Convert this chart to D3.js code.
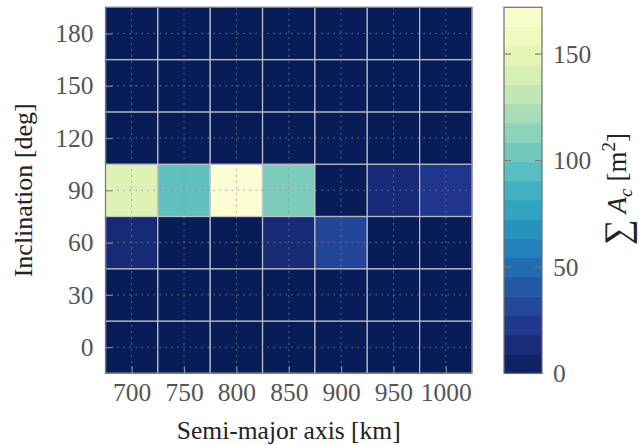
<!DOCTYPE html>
<html>
<head>
<meta charset="utf-8">
<script src="https://cdn.jsdelivr.net/npm/d3@7"></script>
<style>
  html, body { margin: 0; padding: 0; background: #fff; }
  svg { display: block; }
  text { font-family: "Liberation Serif", "DejaVu Serif", serif; }
</style>
</head>
<body>
<svg id="chart" width="639" height="445"></svg>
<script>
// ---- data ----
const semiMajorAxis = [700, 750, 800, 850, 900, 950, 1000];     // km (x categories)
const inclinations = [0, 30, 60, 90, 120, 150, 180];            // deg (y categories)
// summed cross-sectional area per cell, one array per inclination row (m^2)
const areaInc0   = [0, 0, 0, 0, 0, 0, 0];
const areaInc30  = [0, 0, 0, 0, 0, 0, 0];
const areaInc60  = [12, 0, 0, 12, 30, 0, 0];
const areaInc90  = [145, 98, 172, 108, 0, 12, 21];
const areaInc120 = [0, 0, 0, 0, 0, 0, 0];
const areaInc150 = [0, 0, 0, 0, 0, 0, 0];
const areaInc180 = [0, 0, 0, 0, 0, 0, 0];
const areaRows = [areaInc0, areaInc30, areaInc60, areaInc90, areaInc120, areaInc150, areaInc180];
const colorTicks = [0, 50, 100, 150];
const colorMax = 172;
const colorLevels = 19;

// ---- layout ----
const svg = d3.select("#chart");
const plot = { left: 105.5, right: 472, top: 7.3, bottom: 373.3 };
const cbar = { left: 504, right: 542, top: 7.3, bottom: 373.3 };

const x = d3.scaleLinear().domain([675, 1025]).range([plot.left, plot.right]);
const y = d3.scaleLinear().domain([-15, 195]).range([plot.bottom, plot.top]);
const cy = d3.scaleLinear().domain([0, colorMax]).range([cbar.bottom, cbar.top]);
const color = v => d3.interpolateYlGnBu(1 - Math.min(v, colorMax) / colorMax * 0.985);

const cells = [];
inclinations.forEach((inc, i) => {
  semiMajorAxis.forEach((a, j) => cells.push({ a, inc, v: areaRows[i][j] }));
});

// cells
svg.append("g").selectAll("rect").data(cells).join("rect")
  .attr("x", d => x(d.a - 25))
  .attr("y", d => y(d.inc + 15))
  .attr("width", d => x(d.a + 25) - x(d.a - 25))
  .attr("height", d => y(d.inc - 15) - y(d.inc + 15))
  .attr("fill", d => color(d.v))
  .attr("stroke", "#c4c4c8")
  .attr("stroke-opacity", 0.85)
  .attr("stroke-width", 1.3);

// dotted grid
const grid = svg.append("g").attr("stroke", "#8a8a8a").attr("stroke-width", 1)
  .attr("stroke-dasharray", "1.3,4.7");
grid.selectAll("line.h").data(inclinations).join("line")
  .attr("x1", plot.left).attr("x2", plot.right)
  .attr("y1", d => y(d)).attr("y2", d => y(d));
grid.selectAll("line.v").data(semiMajorAxis).join("line")
  .attr("y1", plot.top).attr("y2", plot.bottom)
  .attr("x1", d => x(d)).attr("x2", d => x(d));

// frame
svg.append("rect")
  .attr("x", plot.left).attr("y", plot.top)
  .attr("width", plot.right - plot.left).attr("height", plot.bottom - plot.top)
  .attr("fill", "none").attr("stroke", "#7a7a7a").attr("stroke-width", 1.2);

// axes
const xAxis = d3.axisBottom(x).tickValues(semiMajorAxis).tickFormat(d3.format("d"))
  .tickSizeInner(-7).tickSizeOuter(0).tickPadding(10);
const gx = svg.append("g").attr("transform", `translate(0,${plot.bottom})`).call(xAxis);
gx.select(".domain").remove();
gx.selectAll(".tick line").attr("stroke", "#8a8a8a").attr("stroke-width", 1.2);
gx.selectAll(".tick text").attr("font-size", 25.5).attr("fill", "#555").attr("font-family", "Liberation Serif");

const yAxis = d3.axisLeft(y).tickValues(inclinations).tickFormat(d3.format("d"))
  .tickSizeInner(-7).tickSizeOuter(0).tickPadding(12);
const gy = svg.append("g").attr("transform", `translate(${plot.left},0)`).call(yAxis);
gy.select(".domain").remove();
gy.selectAll(".tick line").attr("stroke", "#8a8a8a").attr("stroke-width", 1.2);
gy.selectAll(".tick text").attr("font-size", 25.5).attr("fill", "#555").attr("font-family", "Liberation Serif");

// axis titles
svg.append("text")
  .attr("x", (plot.left + plot.right) / 2).attr("y", 439)
  .attr("text-anchor", "middle").attr("font-size", 25.5).attr("fill", "#222")
  .text("Semi-major axis [km]");
svg.append("text")
  .attr("transform", `translate(32,${(plot.top + plot.bottom) / 2}) rotate(-90)`)
  .attr("text-anchor", "middle").attr("font-size", 26).attr("fill", "#222")
  .text("Inclination [deg]");

// colorbar bands
const step = colorMax / colorLevels;
const bands = d3.range(colorLevels).map(k => ({ lo: k * step, hi: (k + 1) * step }));
svg.append("g").selectAll("rect").data(bands).join("rect")
  .attr("x", cbar.left).attr("width", cbar.right - cbar.left)
  .attr("y", d => cy(d.hi)).attr("height", d => cy(d.lo) - cy(d.hi) + 0.5)
  .attr("fill", d => color((d.lo + d.hi) / 2));
svg.append("rect")
  .attr("x", cbar.left).attr("y", cbar.top)
  .attr("width", cbar.right - cbar.left).attr("height", cbar.bottom - cbar.top)
  .attr("fill", "none").attr("stroke", "#6e6e6e").attr("stroke-width", 1.2);

const cAxis = d3.axisRight(cy).tickValues(colorTicks).tickFormat(d3.format("d"))
  .tickSizeInner(0).tickSizeOuter(0).tickPadding(11);
const gc = svg.append("g").attr("transform", `translate(${cbar.right},0)`).call(cAxis);
gc.select(".domain").remove();
gc.selectAll(".tick text").attr("font-size", 25.5).attr("fill", "#555").attr("font-family", "Liberation Serif");
// inner tick marks on both sides of the bar
const cticks = svg.append("g").attr("stroke", "#7a7a7a").attr("stroke-width", 1.2);
cticks.selectAll("line.l").data(colorTicks.filter(t => t > 0)).join("line")
  .attr("x1", cbar.left).attr("x2", cbar.left + 7).attr("y1", d => cy(d)).attr("y2", d => cy(d));
cticks.selectAll("line.r").data(colorTicks.filter(t => t > 0)).join("line")
  .attr("x1", cbar.right - 7).attr("x2", cbar.right).attr("y1", d => cy(d)).attr("y2", d => cy(d));

// colorbar title
const ct = svg.append("text")
  .attr("transform", `translate(626,189) rotate(-90)`)
  .attr("text-anchor", "middle").attr("font-size", 27).attr("fill", "#222");
ct.append("tspan").attr("font-size", 36).attr("dy", 3).text("∑");
ct.append("tspan").attr("dx", 6).attr("dy", -3).attr("font-style", "italic").text("A");
ct.append("tspan").attr("font-style", "italic").attr("font-size", 19).attr("dy", 6).text("c");
ct.append("tspan").attr("dx", 7).attr("dy", -6).text("[m");
ct.append("tspan").attr("font-size", 19).attr("dy", -11).text("2");
ct.append("tspan").attr("dy", 11).text("]");
</script>
</body>
</html>
